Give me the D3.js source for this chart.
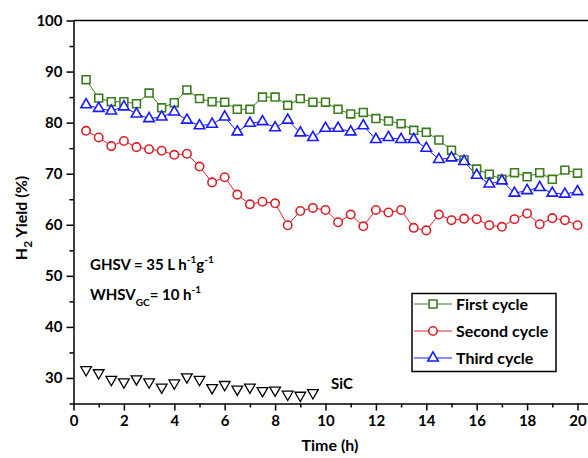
<!DOCTYPE html>
<html lang="en">
	<head>
		<meta charset="utf-8">
		<title>H2 yield vs time</title>
		<script src="https://d3js.org/d3.v7.min.js"></script>
		<style type="text/css">
			body { margin: 0; background: #fff; }
			text { font-family: Lato, "Open Sans", sans-serif; font-weight: bold; }
		</style>
	</head>
	<body>
		<script type="text/javascript">

			// time (h), one reading every half hour
			var hours = [0.5, 1, 1.5, 2, 2.5, 3, 3.5, 4, 4.5, 5, 5.5, 6, 6.5, 7, 7.5, 8, 8.5, 9, 9.5, 10,
				10.5, 11, 11.5, 12, 12.5, 13, 13.5, 14, 14.5, 15, 15.5, 16, 16.5, 17, 17.5, 18, 18.5, 19, 19.5, 20];

			var firstCycle = [88.4, 84.8, 84.1, 84.1, 83.7, 85.8, 82.9, 83.9, 86.4, 84.7, 84.1, 84.0, 82.6, 82.6, 85.0, 85.0, 83.4, 84.7, 84.0, 84.0,
				82.6, 81.7, 82.0, 80.8, 80.3, 79.8, 78.5, 78.1, 76.6, 74.6, 72.7, 70.9, 69.9, 68.9, 70.2, 69.4, 70.2, 68.9, 70.7, 70.1];

			var secondCycle = [78.4, 77.1, 75.4, 76.4, 75.2, 74.8, 74.5, 73.7, 73.9, 71.4, 68.3, 69.3, 65.9, 64.0, 64.5, 64.2, 59.9, 62.7, 63.3, 62.9,
				60.5, 62.0, 59.7, 62.9, 62.4, 62.9, 59.4, 58.9, 62.0, 60.9, 61.2, 61.1, 59.9, 59.6, 61.1, 62.2, 60.1, 61.3, 60.9, 59.9];

			var thirdCycle = [83.5, 82.8, 82.3, 83.1, 81.7, 80.8, 81.1, 82.1, 80.5, 79.4, 79.7, 81.1, 78.2, 79.9, 80.2, 79.0, 80.5, 78.0, 77.1, 78.9,
				78.9, 78.2, 79.4, 76.7, 77.1, 76.7, 76.7, 75.0, 72.8, 73.1, 72.4, 69.7, 68.0, 68.6, 66.2, 66.7, 67.3, 66.2, 66.0, 66.5];

			// SiC blank run, first 19 readings only
			var sicHours = [0.5, 1, 1.5, 2, 2.5, 3, 3.5, 4, 4.5, 5, 5.5, 6, 6.5, 7, 7.5, 8, 8.5, 9, 9.5];
			var sicValues = [31.6, 31.0, 29.7, 29.2, 29.8, 29.2, 28.2, 29.0, 30.2, 29.7, 28.1, 28.7, 27.8, 28.2, 27.5, 27.6, 26.8, 26.6, 27.1];

			var xTicks = [0, 2, 4, 6, 8, 10, 12, 14, 16, 18, 20];
			var yTicks = [30, 40, 50, 60, 70, 80, 90, 100];

			var W = 588, H = 458;
			var margin = {top: 20.5, left: 73.5};
			var plotBottom = 403.5;

			var svg = d3.select("body")
				.append("svg")
				.attr("width", W)
				.attr("height", H);

			var x = d3.scaleLinear()
				.domain([0, 20.6])
				.range([margin.left, margin.left + 25.2 * 20.6]);

			var y = d3.scaleLinear()
				.domain([25, 100])
				.range([plotBottom, margin.top]);

			// frame top line (right edge is cut off by the picture)
			svg.append("line")
				.attr("x1", x(0)).attr("x2", W)
				.attr("y1", y(100)).attr("y2", y(100))
				.attr("stroke", "#000").attr("stroke-width", 1.5);

			// minor ticks first, then main axes
			svg.append("g")
				.attr("transform", "translate(0," + plotBottom + ")")
				.call(d3.axisBottom(x).tickValues(d3.range(1, 21, 2)).tickSize(4).tickFormat(""))
				.call(function(g){ g.select(".domain").remove(); })
				.selectAll("line").attr("stroke-width", 1.5);

			svg.append("g")
				.attr("transform", "translate(" + margin.left + ",0)")
				.call(d3.axisLeft(y).tickValues([25, 35, 45, 55, 65, 75, 85, 95]).tickSize(4).tickFormat(""))
				.call(function(g){ g.select(".domain").remove(); })
				.selectAll("line").attr("stroke-width", 1.5);

			var xAxis = svg.append("g")
				.attr("transform", "translate(0," + plotBottom + ")")
				.call(d3.axisBottom(x).tickValues(xTicks).tickSize(7).tickSizeOuter(0).tickPadding(5));
			xAxis.select(".domain").attr("stroke-width", 1.5);
			xAxis.selectAll("line").attr("stroke-width", 1.5);
			xAxis.selectAll("text").style("font-size", "15px").attr("fill", "#000");

			var yAxis = svg.append("g")
				.attr("transform", "translate(" + margin.left + ",0)")
				.call(d3.axisLeft(y).tickValues(yTicks).tickSize(7).tickSizeOuter(0).tickPadding(4));
			yAxis.select(".domain").attr("stroke-width", 1.5);
			yAxis.selectAll("line").attr("stroke-width", 1.5);
			yAxis.selectAll("text").style("font-size", "15px").attr("fill", "#000");

			// axis titles
			svg.append("text")
				.attr("x", 330).attr("y", 451)
				.attr("text-anchor", "middle")
				.style("font-size", "16px")
				.text("Time (h)");

			var yl = svg.append("text")
				.attr("transform", "translate(27,218) rotate(-90)")
				.attr("text-anchor", "middle")
				.style("font-size", "16px");
			yl.append("tspan").text("H");
			yl.append("tspan").attr("dy", 5).style("font-size", "12px").text("2");
			yl.append("tspan").attr("dy", -5).text(" Yield (%)");

			// series
			var series = [
				{name: "First cycle", values: firstCycle, color: "#3b7d1c", shape: "square"},
				{name: "Second cycle", values: secondCycle, color: "#d8222a", shape: "circle"},
				{name: "Third cycle", values: thirdCycle, color: "#1a1aff", shape: "triangle"}
			];

			function marker(shape) {
				if (shape === "square") return d3.symbol().type(d3.symbolSquare).size(62)();
				if (shape === "circle") return d3.symbol().type(d3.symbolCircle).size(56)();
				return d3.symbol().type(d3.symbolTriangle).size(48)();
			}

			var line = d3.line()
				.x(function(d){ return x(d[0]); })
				.y(function(d){ return y(d[1]); });

			series.forEach(function(s){
				var pts = hours.map(function(h, i){ return [h, s.values[i]]; });
				svg.append("path")
					.datum(pts)
					.attr("d", line)
					.attr("fill", "none")
					.attr("stroke", s.color)
					.attr("stroke-width", 1);
			});

			series.forEach(function(s){
				var pts = hours.map(function(h, i){ return [h, s.values[i]]; });
				svg.append("g")
					.selectAll("path")
					.data(pts)
					.enter()
					.append("path")
					.attr("d", marker(s.shape))
					.attr("transform", function(d){ return "translate(" + x(d[0]) + "," + y(d[1]) + ")"; })
					.attr("fill", "#fff")
					.attr("stroke", s.color)
					.attr("stroke-width", 1.6);
			});

			// SiC points, no line
			svg.append("g")
				.selectAll("path")
				.data(sicHours)
				.enter()
				.append("path")
				.attr("d", d3.symbol().type(d3.symbolTriangle).size(50)())
				.attr("transform", function(d, i){ return "translate(" + x(d) + "," + y(sicValues[i]) + ") rotate(180)"; })
				.attr("fill", "#fff")
				.attr("stroke", "#000")
				.attr("stroke-width", 1.3);

			svg.append("text")
				.attr("x", 331).attr("y", 389)
				.style("font-size", "15px")
				.text("SiC");

			// conditions
			var t1 = svg.append("text").attr("x", 90).attr("y", 270).style("font-size", "15px");
			t1.append("tspan").text("GHSV = 35 L h");
			t1.append("tspan").attr("dy", -7).style("font-size", "10px").text("-1");
			t1.append("tspan").attr("dy", 7).text("g");
			t1.append("tspan").attr("dy", -7).style("font-size", "10px").text("-1");

			var t2 = svg.append("text").attr("x", 90).attr("y", 300).style("font-size", "15px");
			t2.append("tspan").text("WHSV");
			t2.append("tspan").attr("dy", 6).style("font-size", "10px").text("GC");
			t2.append("tspan").attr("dy", -6).text("= 10 h");
			t2.append("tspan").attr("dy", -7).style("font-size", "10px").text("-1");

			// legend
			var legend = svg.append("g");
			legend.append("rect")
				.attr("x", 412).attr("y", 293.5)
				.attr("width", 144).attr("height", 78)
				.attr("fill", "#fff")
				.attr("stroke", "#000")
				.attr("stroke-width", 1.5);

			var rows = legend.selectAll("g.row")
				.data(series)
				.enter()
				.append("g")
				.attr("class", "row")
				.attr("transform", function(d, i){ return "translate(0," + (304 + i * 27) + ")"; });

			rows.append("line")
				.attr("x1", 414).attr("x2", 452)
				.attr("stroke", function(d){ return d.color; })
				.attr("stroke-width", 1);
			rows.append("path")
				.attr("d", function(d){ return marker(d.shape); })
				.attr("transform", "translate(433,0)")
				.attr("fill", "#fff")
				.attr("stroke", function(d){ return d.color; })
				.attr("stroke-width", 1.6);
			rows.append("text")
				.attr("x", 456).attr("y", 5.5)
				.style("font-size", "16px")
				.text(function(d){ return d.name; });

		</script>
	</body>
</html>
